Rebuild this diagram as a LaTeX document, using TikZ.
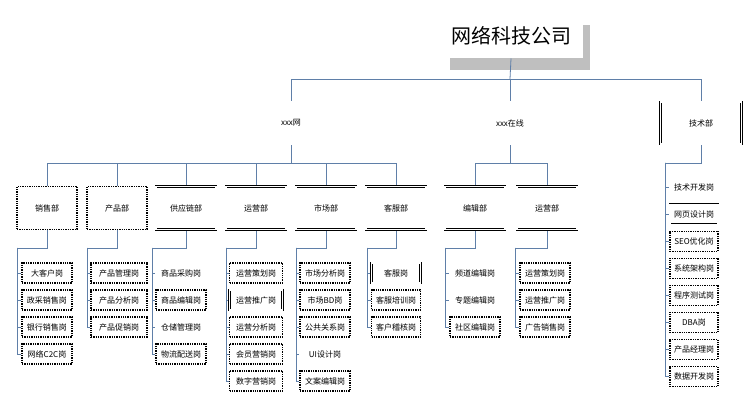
\documentclass[tikz,border=0pt]{standalone}
\usepackage{fontspec}
\setmainfont{Noto Sans CJK SC}
\definecolor{lnc}{HTML}{5F7FA8}
\newcommand\grp[6]{%
  \coordinate (#1e) at (#3,248);
  \draw[conn] (#2.south) |- (#1e);
  \foreach \t/\s [count=\i] in {#6} {
    \node[\s,minimum width=#5pt,minimum height=20pt] (#1-\i) at (#4,{273+27*(\i-1)}) {\t};
    \draw[conn] (#1e) |- (#1-\i.west);
  }}
\newcommand\tgrp[1]{%
  \foreach \t/\s [count=\i] in {#1} {
    \node[\s,minimum width=48pt,minimum height=20pt] (t-\i) at (694,{187+27.1*(\i-1)}) {\t};
    \draw[conn] (te) |- (t-\i.west);
  }}
\begin{document}
\begin{tikzpicture}[x=1pt,y=-1pt,
  conn/.style={draw=lnc,line width=0.8pt},
  base/.style={inner sep=0,align=center,font=\fontsize{8}{9}\selectfont},
  dbl/.style={base,draw,fill=white,line width=2.8pt,postaction={draw=white,line width=1.1pt}},
  dot/.style={base,draw,densely dotted,line width=1.3pt,fill=white},
  dept/.style={minimum width=60pt,minimum height=43pt}]
\useasboundingbox (0,0) rectangle (750,403);
\fill[white] (0,0) rectangle (750,403);
% top
\fill[black!25] (450,25) rectangle (590,70);
\node[dbl,minimum width=142pt,minimum height=42pt,font=\fontsize{20}{22}\selectfont] (top) at (511,36) {网络科技公司};
\node[dbl,dept,minimum width=82pt,minimum height=42pt] (w) at (291,123) {xxx网};
\node[dbl,dept,minimum width=80pt,minimum height=42pt] (z) at (510,123) {xxx在线};
\node[dbl,dept,minimum width=81pt,minimum height=42pt] (j) at (701,123) {技术部};
\coordinate (b1) at (510,79);
\draw[conn] (top.south) -- (b1);
\draw[conn] (b1) -| (w.north);
\draw[conn] (b1) -| (z.north);
\draw[conn] (b1) -| (j.north);
% depts
\node[dot,dept] (d1) at (47,208) {销售部};
\node[dot,dept] (d2) at (117,208) {产品部};
\node[dbl,dept] (d3) at (186,208) {供应链部};
\node[dbl,dept] (d4) at (256,208) {运营部};
\node[dbl,dept] (d5) at (326,208) {市场部};
\node[dbl,dept] (d6) at (396,208) {客服部};
\node[dbl,dept] (d7) at (475,208) {编辑部};
\node[dbl,dept] (d8) at (547,208) {运营部};
\coordinate (wb) at (291,163);
\coordinate (zb) at (510,163);
\draw[conn] (w.south) -- (wb);
\foreach \d in {d1,d2,d3,d4,d5,d6} \draw[conn] (wb) -| (\d.north);
\draw[conn] (z.south) -- (zb);
\foreach \d in {d7,d8} \draw[conn] (zb) -| (\d.north);
\grp{a}{d1}{17}{47}{50}{大客户岗/dot,政采销售岗/dot,银行销售岗/dot,网络C2C岗/dot}
\grp{b}{d2}{87}{119}{56}{产品管理岗/dot,产品分析岗/dot,产品促销岗/dot}
\grp{c}{d3}{152}{181}{50}{商品采购岗/dbl,商品编辑岗/dot,仓储管理岗/dbl,物流配送岗/dot}
\grp{e}{d4}{226}{256}{53}{运营策划岗/dot,运营推广岗/dbl,运营分析岗/dot,会员营销岗/dot,数字营销岗/dot}
\grp{f}{d5}{296}{325}{50}{市场分析岗/dot,市场BD岗/dot,公共关系岗/dot,UI设计岗/dbl,文案编辑岗/dot}
\grp{g}{d6}{367}{396}{49}{客服岗/dbl,客服培训岗/dot,客户稽核岗/dot}
\grp{h}{d7}{445}{475}{50}{频道编辑岗/dbl,专题编辑岗/dbl,社区编辑岗/dot}
\grp{k}{d8}{515}{545}{50}{运营策划岗/dot,运营推广岗/dot,广告销售岗/dot}
\coordinate (te) at (665,163);
\draw[conn] (j.south) |- (te);
\tgrp{技术开发岗/dbl,网页设计岗/dbl,SEO优化岗/dot,系统架构岗/dot,程序测试岗/dot,DBA岗/dot,产品经理岗/dot,数据开发岗/dot}
\end{tikzpicture}
\end{document}
